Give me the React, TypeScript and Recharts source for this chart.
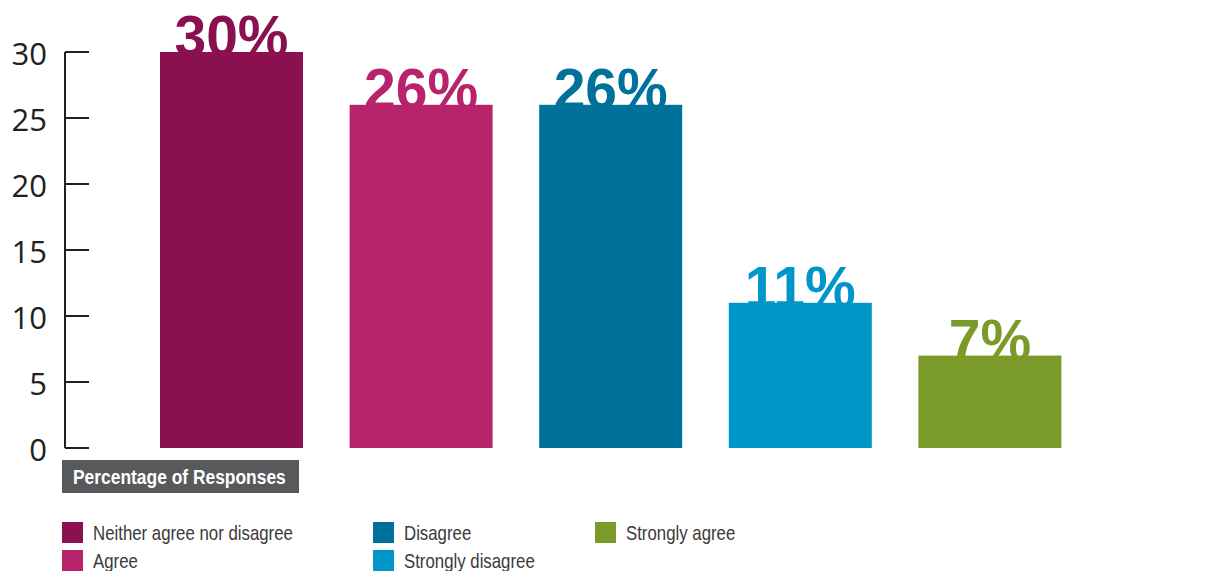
import React from 'react';
import { BarChart, Bar, XAxis, YAxis, Cell } from 'recharts';

const categories = ['Neither agree nor disagree', 'Agree', 'Disagree', 'Strongly disagree', 'Strongly agree'];
const values = [30, 26, 26, 11, 7];
const colors = ['#8a104f', '#b7246b', '#00719b', '#0096c9', '#7a9b2a'];
const yTicks = [0, 5, 10, 15, 20, 25, 30];
const axisTitle = 'Percentage of Responses';

// legend layout: columns of category indices
const legendColumns = [[0, 1], [2, 3], [4]];
const legendColLeft = [62, 373, 595];

const data = categories.map((c, i) => ({ name: c, value: values[i], fill: colors[i] }));

const YTick = (props: any) => {
  const { x, y, payload } = props;
  return (
    <g>
      <line x1={x} y1={y} x2={x + 24} y2={y} stroke="#231f20" strokeWidth={2} />
      <text
        x={x - 18}
        y={y + 1}
        textAnchor="end"
        dominantBaseline="central"
        fontFamily="'Open Sans', 'DejaVu Sans', sans-serif"
        fontSize={31}
        fill="#231f20"
      >
        {payload.value}
      </text>
    </g>
  );
};

const BarShape = (props: any) => {
  const { x, y, width, height, index } = props;
  const fill = colors[index];
  return (
    <g>
      <text
        x={x + width / 2}
        y={y + 4}
        textAnchor="middle"
        fontFamily="'Liberation Sans', Arial, sans-serif"
        fontWeight="bold"
        fontSize={57}
        fill={fill}
      >
        {values[index] + '%'}
      </text>
      <rect x={x} y={y} width={width} height={height} fill={fill} />
    </g>
  );
};

export default function App() {
  return (
    <div style={{ position: 'absolute', left: 0, top: 0, width: 1218, height: 571, background: '#fff', overflow: 'hidden' }}>
      <BarChart
        width={1218}
        height={571}
        data={data}
        margin={{ top: 52, right: 1, left: 0, bottom: 123 }}
      >
        <XAxis
          dataKey="name"
          height={0}
          tick={false}
          tickLine={false}
          axisLine={{ stroke: '#231f20', strokeWidth: 3 }}
          padding={{ left: 72, right: 132 }}
        />
        <YAxis
          width={65}
          domain={[0, 30]}
          ticks={yTicks}
          interval={0}
          tickSize={0}
          tickMargin={0}
          tickLine={false}
          tick={<YTick />}
          axisLine={{ stroke: '#231f20', strokeWidth: 2 }}
        />
        <Bar dataKey="value" barSize={143} isAnimationActive={false} shape={<BarShape />}>
          {data.map((d, i) => (
            <Cell key={i} fill={d.fill} />
          ))}
        </Bar>
      </BarChart>
      <div
        style={{
          position: 'absolute',
          left: 62,
          top: 460,
          width: 237,
          height: 33,
          background: '#58595b',
        }}
      >
        <span
          style={{
            position: 'absolute',
            left: 11,
            top: 0,
            display: 'inline-block',
            whiteSpace: 'nowrap',
            color: '#fff',
            fontFamily: "'Liberation Sans', Arial, sans-serif",
            fontWeight: 'bold',
            fontSize: 20,
            lineHeight: '34px',
            transform: 'scaleX(0.87)',
            transformOrigin: 'left center',
          }}
        >
          {axisTitle}
        </span>
      </div>
      {legendColumns.map((col, ci) => (
        <div key={ci} style={{ position: 'absolute', left: legendColLeft[ci], top: 522 }}>
          {col.map((idx) => (
            <div key={idx} style={{ display: 'flex', alignItems: 'center', height: 21, marginBottom: 7 }}>
              <div style={{ width: 21, height: 21, background: colors[idx], marginRight: 10, flex: 'none' }} />
              <span
                style={{
                  display: 'inline-block',
                  fontFamily: "'Liberation Sans', Arial, sans-serif",
                  fontSize: 21,
                  color: '#3a3a3a',
                  whiteSpace: 'nowrap',
                  transform: 'scaleX(0.8)',
                  transformOrigin: 'left center',
                }}
              >
                {categories[idx]}
              </span>
            </div>
          ))}
        </div>
      ))}
    </div>
  );
}
